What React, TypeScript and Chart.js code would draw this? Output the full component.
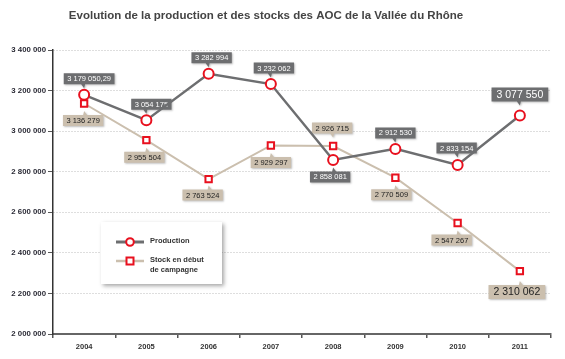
import React, { useEffect, useRef } from "react";
import { Chart, registerables } from "chart.js";

Chart.register(...registerables);

const years = ["2004", "2005", "2006", "2007", "2008", "2009", "2010", "2011"];
const production = [3179050.29, 3054175, 3282994, 3232062, 2858081, 2912530, 2833154, 3077550];
const stock = [3136279, 2955504, 2763524, 2929297, 2926715, 2770509, 2547267, 2310062];
const productionLabels = ["3 179 050,29", "3 054 175", "3 282 994", "3 232 062", "2 858 081", "2 912 530", "2 833 154", "3 077 550"];
const stockLabels = ["3 136 279", "2 955 504", "2 763 524", "2 929 297", "2 926 715", "2 770 509", "2 547 267", "2 310 062"];
const seriesNames = ["Production", "Stock en début|de campagne"];
const titleText = "Evolution de la production et des stocks des AOC de la Vallée du Rhône";

// label box offsets (layout only)
const prodOffsets: [number, number][] = [[5, -16], [5, -16], [3, -16], [3, -16], [-3, 17], [0, -16], [-1, -17], [0, -21]];
const stockOffsets: [number, number][] = [[-1, 17], [-2, 17], [-6, 16], [0, 17], [-1, -18], [-4, 17], [-6, 17], [-3, 21]];

const FONT = "'Liberation Sans', Arial, sans-serif";
const GREY = "#6d6e70";
const BEIGE = "#cbbfae";
const RED = "#e8101e";

function fmt(v: number) {
  return String(Math.round(v)).replace(/\B(?=(\d{3})+(?!\d))/g, " ");
}

function drawBox(ctx: CanvasRenderingContext2D, px: number, py: number, dx: number, dy: number, text: string, bg: string, fg: string, big: boolean) {
  const fs = big ? 10.5 : 7.5;
  ctx.save();
  ctx.font = `${fs}px ${FONT}`;
  const tw = ctx.measureText(text).width;
  const w = tw + (big ? 10 : 7);
  const h = big ? 14 : 11;
  const cx = px + dx;
  const cy = py + dy;
  const x0 = cx - w / 2;
  const y0 = cy - h / 2;
  ctx.shadowColor = "rgba(0,0,0,0.25)";
  ctx.shadowBlur = 2;
  ctx.shadowOffsetX = 1;
  ctx.shadowOffsetY = 1;
  ctx.fillStyle = bg;
  ctx.beginPath();
  ctx.rect(x0, y0, w, h);
  const tx = Math.max(x0 + 4, Math.min(x0 + w - 4, px));
  if (dy < 0) {
    ctx.moveTo(tx - 3, y0 + h);
    ctx.lineTo(tx, y0 + h + 4);
    ctx.lineTo(tx + 1, y0 + h);
  } else {
    ctx.moveTo(tx - 1, y0);
    ctx.lineTo(tx, y0 - 4);
    ctx.lineTo(tx + 3, y0);
  }
  ctx.fill();
  ctx.shadowColor = "transparent";
  ctx.fillStyle = fg;
  ctx.textAlign = "center";
  ctx.textBaseline = "middle";
  ctx.fillText(text, cx, cy + 0.5);
  ctx.restore();
}

const labelPlugin = {
  id: "valueLabels",
  beforeDatasetsDraw(chart: any) {
    const ctx = chart.ctx as CanvasRenderingContext2D;
    const m0 = chart.getDatasetMeta(0);
    const m1 = chart.getDatasetMeta(1);
    m1.data.forEach((pt: any, i: number) => {
      drawBox(ctx, pt.x, pt.y, stockOffsets[i][0], stockOffsets[i][1], stockLabels[i], BEIGE, "#222", i === 7);
    });
    m0.data.forEach((pt: any, i: number) => {
      drawBox(ctx, pt.x, pt.y, prodOffsets[i][0], prodOffsets[i][1], productionLabels[i], GREY, "#fff", i === 7);
    });
  },
  afterDraw(chart: any) {
    const ctx = chart.ctx as CanvasRenderingContext2D;
    ctx.save();
    ctx.font = `bold 11.5px ${FONT}`;
    ctx.fillStyle = "#444";
    ctx.textAlign = "center";
    ctx.textBaseline = "middle";
    ctx.fillText(titleText, 266, 16);
    ctx.shadowColor = "rgba(0,0,0,0.35)";
    ctx.shadowBlur = 4;
    ctx.shadowOffsetX = 2;
    ctx.shadowOffsetY = 2;
    ctx.fillStyle = "#fff";
    ctx.fillRect(101, 222, 121, 62);
    ctx.shadowColor = "transparent";
    ctx.strokeStyle = GREY;
    ctx.lineWidth = 3;
    ctx.beginPath();
    ctx.moveTo(116, 242);
    ctx.lineTo(144, 242);
    ctx.stroke();
    ctx.strokeStyle = RED;
    ctx.fillStyle = "#fff";
    ctx.lineWidth = 2;
    ctx.beginPath();
    ctx.arc(130, 242, 3.8, 0, Math.PI * 2);
    ctx.fill();
    ctx.stroke();
    ctx.strokeStyle = BEIGE;
    ctx.lineWidth = 2.5;
    ctx.beginPath();
    ctx.moveTo(116, 261);
    ctx.lineTo(144, 261);
    ctx.stroke();
    ctx.strokeStyle = RED;
    ctx.lineWidth = 2;
    ctx.fillStyle = "#fff";
    ctx.fillRect(126.5, 257.5, 7, 7);
    ctx.strokeRect(126.5, 257.5, 7, 7);
    ctx.font = `bold 7.5px ${FONT}`;
    ctx.fillStyle = "#333";
    ctx.textAlign = "left";
    ctx.fillText(seriesNames[0], 150, 241);
    const parts = seriesNames[1].split("|");
    ctx.fillText(parts[0], 150, 260);
    ctx.fillText(parts[1], 150, 270);
    ctx.restore();
  },
};

export default function App() {
  const ref = useRef<HTMLCanvasElement>(null);
  useEffect(() => {
    if (!ref.current) return;
    const chart = new Chart(ref.current, {
      type: "line",
      data: {
        labels: years,
        datasets: [
          {
            label: "Production",
            data: production,
            borderColor: GREY,
            borderWidth: 2.5,
            pointStyle: "circle",
            pointRadius: 5,
            pointBorderWidth: 2,
            pointBorderColor: RED,
            pointBackgroundColor: "#fff",
            tension: 0,
          },
          {
            label: "Stock",
            data: stock,
            borderColor: BEIGE,
            borderWidth: 2,
            pointStyle: "rect",
            pointRadius: 4.5,
            pointBorderWidth: 2,
            pointBorderColor: RED,
            pointBackgroundColor: "#fff",
            tension: 0,
          },
        ],
      },
      options: {
        animation: false,
        responsive: false,
        maintainAspectRatio: false,
        layout: { padding: { top: 50, right: 14, left: 0, bottom: 0 } },
        plugins: { legend: { display: false }, tooltip: { enabled: false }, title: { display: false } },
        scales: {
          x: {
            offset: true,
            grid: { display: true, drawOnChartArea: false, drawTicks: true, tickLength: 4, offset: true, color: "#555", lineWidth: 1.5 },
            border: { display: true, color: "#666", width: 2 },
            ticks: { font: { family: FONT, size: 7.5, weight: "bold" }, color: "#333", padding: 4, maxRotation: 0 },
            afterFit: (s: any) => { s.height = 25; },
          },
          y: {
            min: 2000000,
            max: 3400000,
            grid: { color: "#bdbdbd", lineWidth: 1, tickLength: 5, tickColor: "#555", tickBorderDash: [] as number[] },
            border: { display: true, color: "#333", width: 1.5, dash: [1, 2] },
            ticks: {
              stepSize: 200000,
              font: { family: FONT, size: 7.8, weight: "bold" },
              color: "#2a2a35",
              padding: 2,
              callback: (v: any) => fmt(Number(v)),
            },
            afterFit: (s: any) => { s.width = 53; },
          },
        },
      },
      plugins: [labelPlugin],
    } as any);
    return () => chart.destroy();
  }, []);
  return (
    <div style={{ position: "fixed", left: 0, top: 0, width: 565, height: 359, background: "#fff" }}>
      <canvas ref={ref} width={565} height={359} style={{ width: 565, height: 359 }} />
    </div>
  );
}
